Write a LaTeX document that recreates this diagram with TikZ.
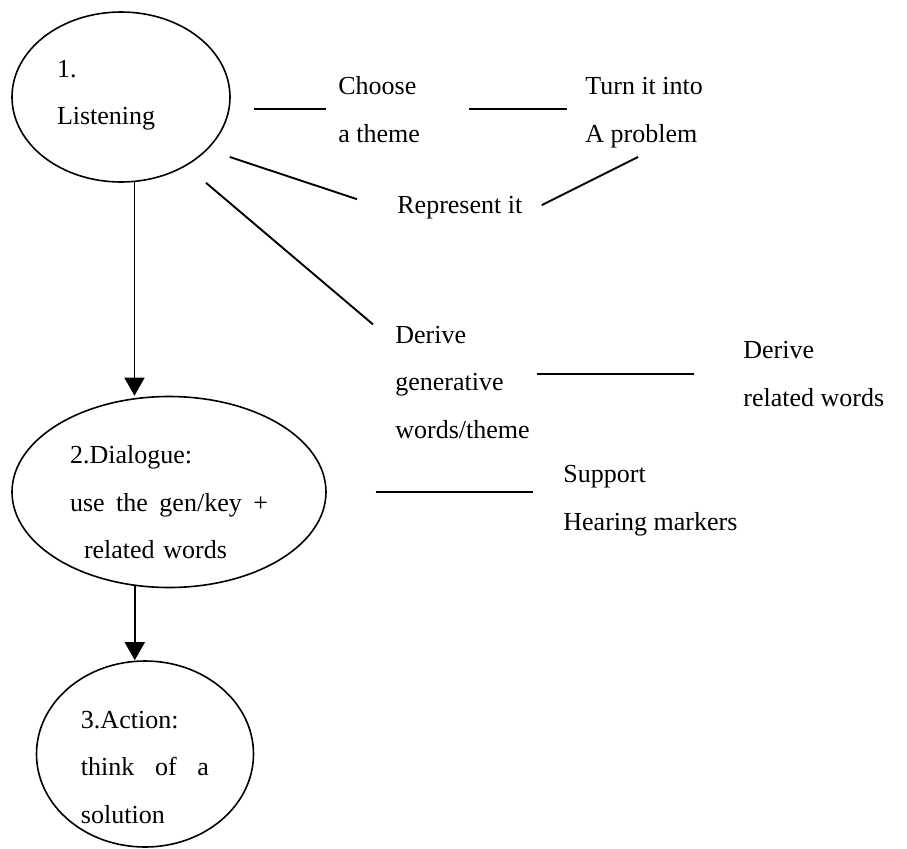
\documentclass[tikz,border=0pt]{standalone}
\usepackage{fontspec}
\setmainfont{Liberation Serif}
\usetikzlibrary{positioning,shapes,arrows.meta,calc}
\tikzstyle{bubble}=[%
      ellipse, draw=black, line width=0.8pt, inner sep=0pt,
      align=left, font=\fontsize{13}{23.75}\selectfont
]
\tikzstyle{lbl}=[%
      inner sep=0pt, anchor=base west, align=left,
      font=\fontsize{13}{23.75}\selectfont
]
\tikzstyle{link}=[line width=0.95pt]
\tikzstyle{arr}=[line width=0.95pt, -{Triangle[length=9pt,width=10pt]}]

\begin{document}
\begin{tikzpicture}[x=0.5pt, y=-0.5pt]
    \useasboundingbox (0,0) rectangle (907,848);

    \node[bubble, minimum width=109pt, minimum height=85pt, text width=64pt, text depth=28.5pt] (listen) at (121,97) {1.\\Listening};
    \node[bubble, minimum width=157pt, minimum height=95.5pt, text width=99pt, text depth=37.5pt] (dialogue) at (169,492) {2.Dialogue:\\use\hfill the\hfill gen/key\hfill +\\\hspace*{7pt}related words};
    \node[bubble, minimum width=108.5pt, minimum height=93pt, text width=64pt, text depth=34.5pt] (action) at (145,754) {3.Action:\\think\hfill of\hfill a\\solution};

    \node[lbl] (choose)    at (338,142) {Choose\\a theme};
    \node[lbl] (turn)      at (585,142) {Turn it into\\A problem};
    \node[lbl] (represent) at (397,213) {Represent it};
    \node[lbl] (derive)    at (395,438) {Derive\\generative\\words/theme};
    \node[lbl] (related)   at (743,406) {Derive\\related words};
    \node[lbl] (support)   at (563,530) {Support\\Hearing markers};

    \draw[link, shorten <=11.5pt, shorten >=6pt] (listen.east |- choose.west) -- (choose.west);
    \draw[link, shorten <=24.5pt, shorten >=9pt] (choose.east) -- (choose.east -| turn.west);
    \draw[link] ($(listen.east)+(-1,60)$) -- ($(represent.west)+(-40,-8)$);
    \draw[link] ($(represent.east)+(19,-2)$) -- ($(turn.south)+(-6,9)$);
    \draw[link] ($(listen.south)+(85,0)$) -- ($(derive.north west)+(-22,-1)$);
    \draw[link, shorten <=3.5pt, shorten >=24.5pt] (related.west -| derive.east) -- (related.west);
    \draw[link, shorten <=24.5pt, shorten >=15pt] (dialogue.east) -- (dialogue.east -| support.west);

    \draw[arr] (listen.-81) -- (listen.-81 |- dialogue.north);
    \draw[arr] (dialogue.-110) -- (dialogue.-110 |- action.north);

  \end{tikzpicture}
\end{document}
